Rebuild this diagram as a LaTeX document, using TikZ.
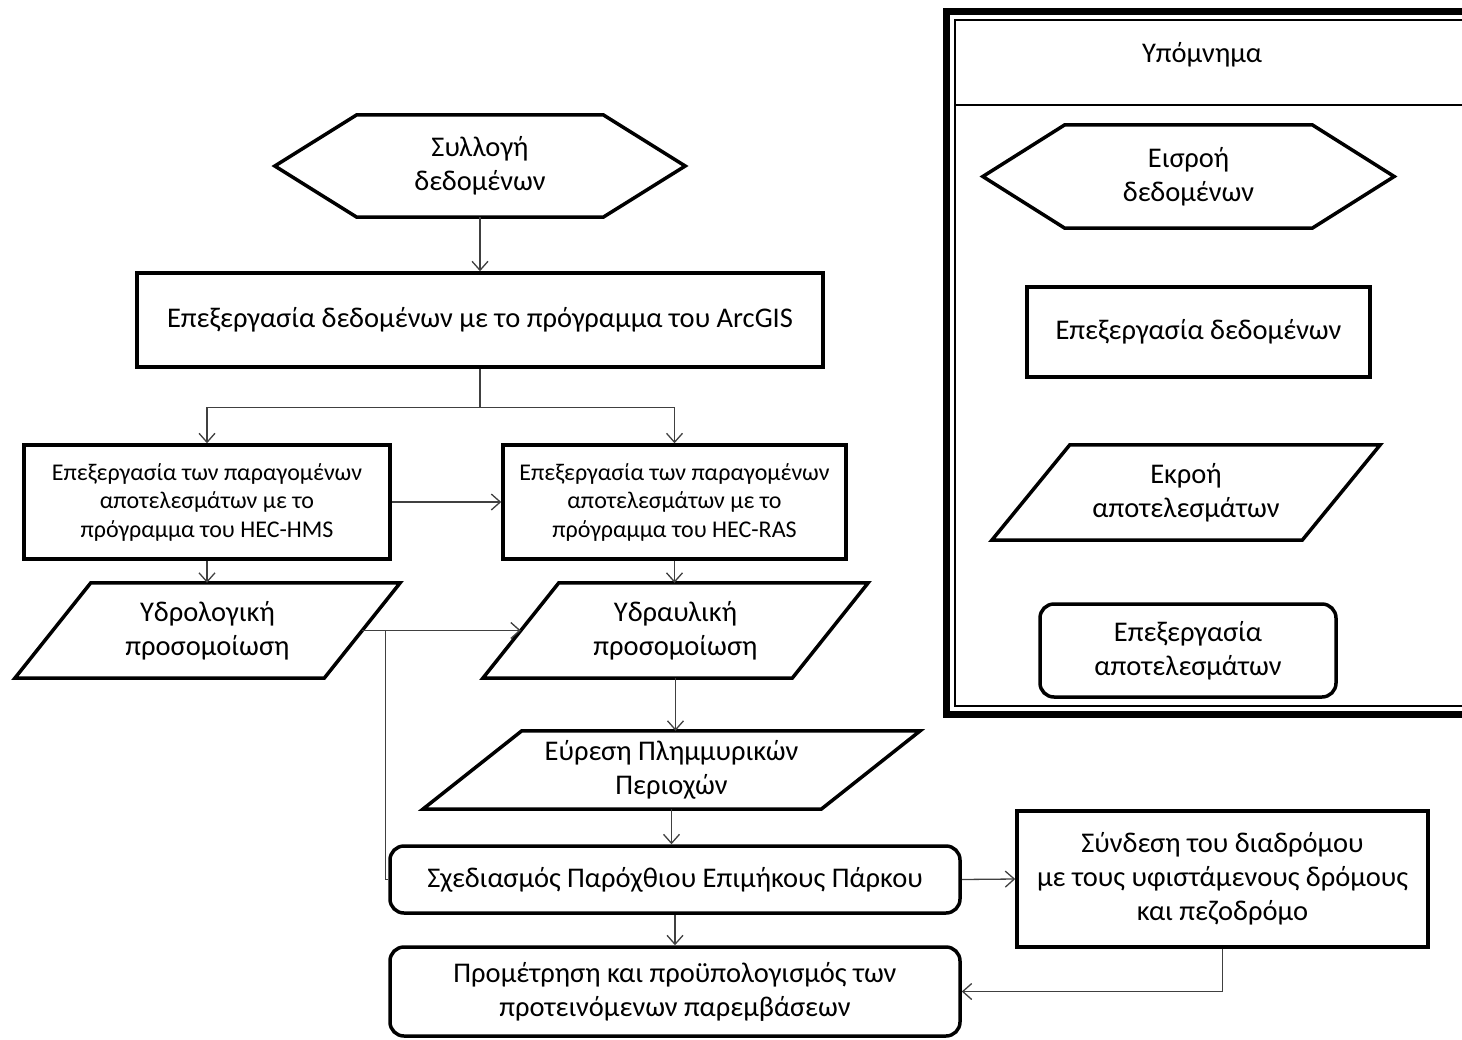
\documentclass[tikz,border=0pt]{standalone}
\usepackage{fontspec}
\setmainfont{Carlito}
\usetikzlibrary{shapes,arrows.meta,positioning}

\newcommand{\bigtxt}{\fontsize{28.5pt}{34pt}\selectfont}
\newcommand{\smalltxt}{\fontsize{24pt}{28.5pt}\selectfont}

% outline round a text node: hexagon (tips stick out by #2) and parallelogram (top shifted right by 2*#2)
\newcommand{\drawhex}[2]{\draw[hexline] ([xshift=-#2]#1.west) -- (#1.north west) -- (#1.north east) -- ([xshift=#2]#1.east) -- (#1.south east) -- (#1.south west) -- cycle;}
\newcommand{\drawslant}[2]{\draw[hexline] ([xshift=#2]#1.north west) -- ([xshift=#2]#1.north east) -- ([xshift=-#2]#1.south east) -- ([xshift=-#2]#1.south west) -- cycle;}

\tikzset{
  box/.style={rectangle, draw, line width=3.5pt, align=center, inner sep=0pt, font=\bigtxt},
  roundbox/.style={box, rounded corners=14pt},
  body/.style={rectangle, align=center, inner sep=0pt, font=\bigtxt},
  hexline/.style={line width=3.5pt, line join=miter},
  link/.style={->, line width=1.3pt, draw=black!75},
  wire/.style={line width=1.3pt, draw=black!75},
}

\begin{document}
\begin{tikzpicture}[x=1pt, y=-1pt, >={Straight Barb[length=9pt,width=16pt]}]
  \clip (0,0) rectangle (1462,1039);
  \fill[white] (0,0) rectangle (1462,1039);

  % main flow
  \node[body, minimum width=246pt, minimum height=102pt] (collect) at (480,166) {Συλλογή\\δεδομένων};
  \drawhex{collect}{82pt}
  \node[box, minimum width=686pt, minimum height=94pt] (arcgis) at (480,320) {Επεξεργασία δεδομένων με το πρόγραμμα του ArcGIS};

  \node[box, font=\smalltxt, minimum width=366pt, minimum height=114pt] (hms) at (207,502) {Επεξεργασία των παραγομένων\\αποτελεσμάτων με το\\πρόγραμμα του HEC-HMS};
  \node[box, font=\smalltxt, minimum width=343pt, minimum height=114pt] (ras) at (674.5,502) {Επεξεργασία των παραγομένων\\αποτελεσμάτων με το\\πρόγραμμα του HEC-RAS};

  \node[body, minimum width=309pt, minimum height=95pt] (hydro) at (207.5,630.5) {Υδρολογική\\προσομοίωση};
  \drawslant{hydro}{38pt}
  \node[body, minimum width=309pt, minimum height=95pt] (hydra) at (675.5,630.5) {Υδραυλική\\προσομοίωση};
  \drawslant{hydra}{38pt}
  \node[body, minimum width=398pt, minimum height=78pt] (flood) at (671.5,770) {Εύρεση Πλημμυρικών\\Περιοχών};
  \drawslant{flood}{49.5pt}

  \node[roundbox, minimum width=570pt, minimum height=67pt] (design) at (675,879.5) {Σχεδιασμός Παρόχθιου Επιμήκους Πάρκου};
  \node[box, minimum width=411pt, minimum height=136pt] (connect) at (1222.5,879) {Σύνδεση του διαδρόμου\\με τους υφιστάμενους δρόμους\\και πεζοδρόμο};
  \node[roundbox, minimum width=570pt, minimum height=89pt] (cost) at (675,991.5) {Προμέτρηση και προϋπολογισμός των\\προτεινόμενων παρεμβάσεων};

  \draw[link] (collect.south) -- (arcgis.north);
  \draw[link] (arcgis.south) -- ++(0,39) -| (hms.north);
  \draw[link] (arcgis.south) -- ++(0,39) -| (ras.north);
  \draw[link] (hms.east) -- (ras.west);
  \draw[link] (hms.south) -- (hms.south |- hydro.north);
  \draw[link] (ras.south) -- (ras.south |- hydra.north);
  \draw[link] (hydro.east) -- (hydra.west);
  \draw[wire] ([xshift=23pt]hydro.east) |- (design.west);
  \draw[link] (hydra.south) -- (hydra.south |- flood.north);
  \draw[link] (flood.south) -- (flood.south |- design.north);
  \draw[link] (design.east) -- (connect.west);
  \draw[link] (design.south) -- (cost.north);
  \draw[link] (connect.south) |- (cost.east);

  % legend
  \draw[line width=7pt] (946,11) rectangle (1480,714);
  \draw[line width=2pt] (954.5,19.5) rectangle (1480,705.5);
  \draw[line width=2pt] (954.5,105) -- (1480,105);
  \node[font=\bigtxt] (legendtitle) at (1202,55) {Υπόμνημα};

  \node[body, minimum width=247pt, minimum height=103pt] (lin) at (1188.5,176.5) {Εισροή\\δεδομένων};
  \drawhex{lin}{82pt}
  \node[box, minimum width=343pt, minimum height=90pt] (lproc) at (1198.5,332) {Επεξεργασία δεδομένων};
  \node[body, minimum width=310pt, minimum height=95pt] (lout) at (1186,492.5) {Εκροή\\αποτελεσμάτων};
  \drawslant{lout}{39pt}
  \node[roundbox, minimum width=296pt, minimum height=93pt] (lres) at (1188,650.5) {Επεξεργασία\\αποτελεσμάτων};
\end{tikzpicture}
\end{document}
